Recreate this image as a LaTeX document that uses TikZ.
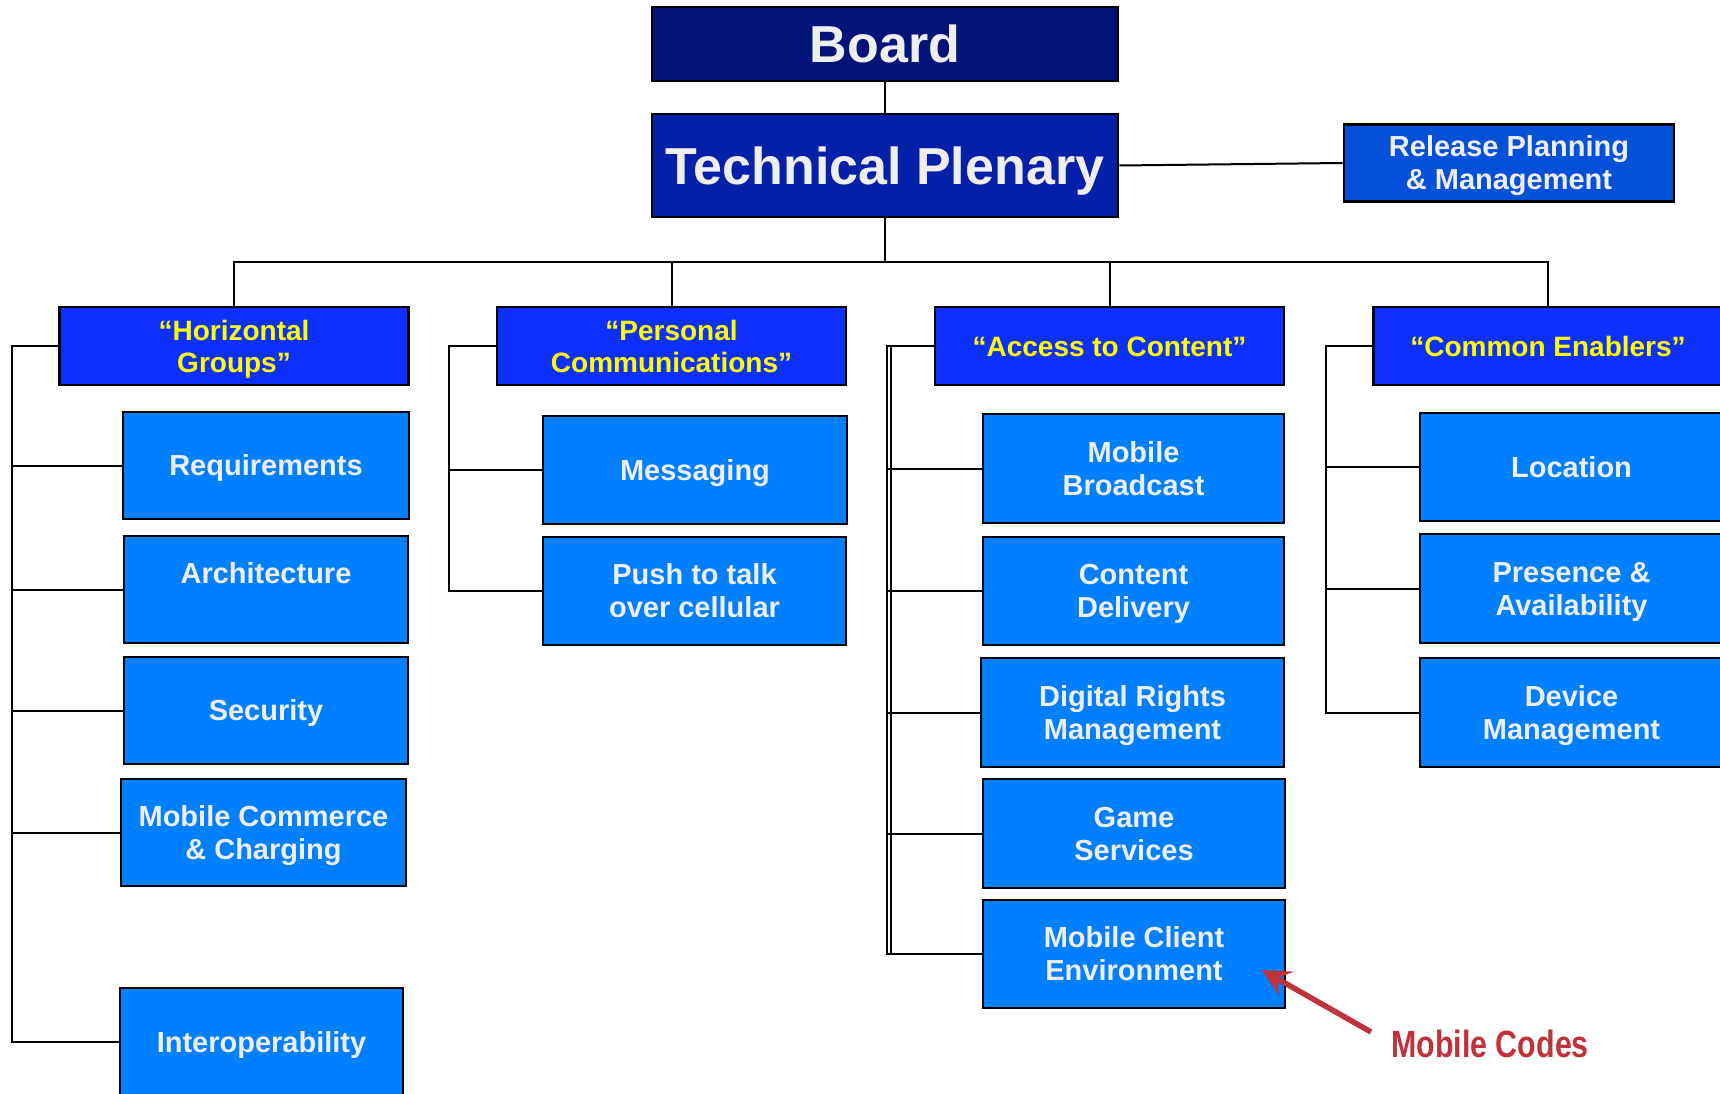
\documentclass[tikz,border=0pt]{standalone}
\usepackage{fontspec}
\setmainfont{Liberation Sans}
\newfontfamily\narrowfont[FakeStretch=0.8]{Liberation Sans}
\usetikzlibrary{arrows.meta}
\definecolor{boardc}{RGB}{3,20,120}
\definecolor{tpc}{RGB}{5,32,168}
\definecolor{relc}{RGB}{5,80,216}
\definecolor{hdrc}{RGB}{14,48,255}
\definecolor{childc}{RGB}{0,128,255}
\definecolor{txtgray}{RGB}{238,238,238}
\definecolor{hdrtxt}{RGB}{255,255,0}
\definecolor{codered}{RGB}{192,50,58}
\begin{document}
\begin{tikzpicture}[x=1pt,y=-1pt,
  base/.style={draw=black, line width=2.6pt, inner sep=0pt, align=center,
    font=\bfseries\fontsize{29}{33}\selectfont, text=txtgray},
  one/.style={text height=20.8pt, text depth=0pt},
  two/.style={text height=53.8pt, text depth=0pt},
  hone/.style={text height=20pt, text depth=0pt},
  htwo/.style={text height=52pt, text depth=0pt},
  big/.style={font=\bfseries\fontsize{52}{56}\selectfont, text height=37.2pt, text depth=0pt},
  hdr/.style={base, fill=hdrc, text=hdrtxt, font=\bfseries\fontsize{28}{32}\selectfont,
    minimum height=78pt, minimum width=349pt},
  child/.style={base, fill=childc, minimum width=303pt, minimum height=108pt},
  link/.style={draw=black, line width=2pt}]
\useasboundingbox (0,0) rectangle (1720,1094);
\fill[white] (0,0) rectangle (1720,1094);

% top
\node[base, big, fill=boardc, minimum width=466pt, minimum height=74pt] (board) at (885,44) {Board};
\node[base, big, fill=tpc, minimum width=466pt, minimum height=103pt] (tp) at (885,165.5) {Technical Plenary};
\node[base, two, fill=relc, minimum width=330pt, minimum height=77pt] (rp) at (1509,163)
  {Release Planning\\\& Management};

% group headers
\node[hdr, htwo] (hg) at (234,346) {``Horizontal\\Groups''};
\node[hdr, htwo] (pc) at (671.5,346) {``Personal\\Communications''};
\node[hdr, hone] (ac) at (1109.5,346) {``Access to Content''};
\node[hdr, hone] (ce) at (1548,346) {``Common Enablers''};

% horizontal groups
\node[child, one, minimum width=286pt, minimum height=107pt] (req) at (266,465.5) {Requirements};
\node[child, two, minimum width=284pt, minimum height=107pt] (arch) at (266,589.5) {Architecture\\\mbox{}};
\node[child, one, minimum width=284pt, minimum height=107pt] (sec) at (266,710.5) {Security};
\node[child, two, minimum width=285pt, minimum height=107pt] (mcom) at (263.5,832.5) {Mobile Commerce\\\& Charging};
\node[child, one, minimum width=283pt, minimum height=108pt] (iop) at (261.5,1042) {Interoperability};

% personal communications
\node[child, one, minimum width=304pt] (msg) at (695,470) {Messaging};
\node[child, two] (ptt) at (694.5,591) {Push to talk\\over cellular};

% access to content
\node[child, two, minimum width=301pt, minimum height=109pt] (mb) at (1133.5,468.5) {Mobile\\Broadcast};
\node[child, two, minimum width=301pt] (cd) at (1133.5,591) {Content\\Delivery};
\node[child, two, minimum height=109pt] (drm) at (1132.5,712.5) {Digital Rights\\Management};
\node[child, two, minimum width=302pt, minimum height=109pt] (gs) at (1134,833.5) {Game\\Services};
\node[child, two, minimum width=302pt] (mce) at (1134,954) {Mobile Client\\Environment};

% common enablers
\node[child, one] (loc) at (1571.5,467) {Location};
\node[child, two, minimum height=109pt] (pres) at (1571.5,588.5) {Presence \&\\Availability};
\node[child, two, minimum height=109pt] (dev) at (1571.5,712.5) {Device\\Management};

% connectors top
\coordinate (busy) at (885,262);
\draw[link] (board) -- (tp);
\draw[link] (tp.east) -- (rp.west);
\draw[link] (tp.south) -- (busy);
\draw[link] (hg.north) |- (busy) -| (ce.north);
\draw[link] (pc.north) -- (pc.north |- busy);
\draw[link] (ac.north) -- (ac.north |- busy);

% side trees
\coordinate (hgside) at (12,346);
\draw[link] (hg.west) -- (hgside) |- (iop.west);
\foreach \c in {req,arch,sec,mcom} \draw[link] (hgside) |- (\c.west);

\coordinate (pcside) at (449,346);
\draw[link] (pc.west) -- (pcside) |- (ptt.west);
\draw[link] (pcside) |- (msg.west);

\coordinate (acside) at (887,346);
\draw[link] (ac.west) -- (acside) |- (mce.west);
\draw[link] ([xshift=4pt]acside) -- ([xshift=4pt]acside |- mce.west);
\foreach \c in {mb,cd,drm,gs} \draw[link] (acside) |- (\c.west);

\coordinate (ceside) at (1326,346);
\draw[link] (ce.west) -- (ceside) |- (dev.west);
\foreach \c in {loc,pres} \draw[link] (ceside) |- (\c.west);

% annotation
\node[font=\narrowfont\bfseries\fontsize{38}{40}\selectfont, text=codered, inner sep=0pt]
  (codes) at (1490,1044) {Mobile Codes};
\coordinate (arrstart) at (1371,1032);
\coordinate (arrtip) at (1262,970);
\draw[codered, line width=5.5pt, -{Stealth[length=28pt,width=28pt,inset=11pt]}] (arrstart) -- (arrtip);
\end{tikzpicture}
\end{document}
